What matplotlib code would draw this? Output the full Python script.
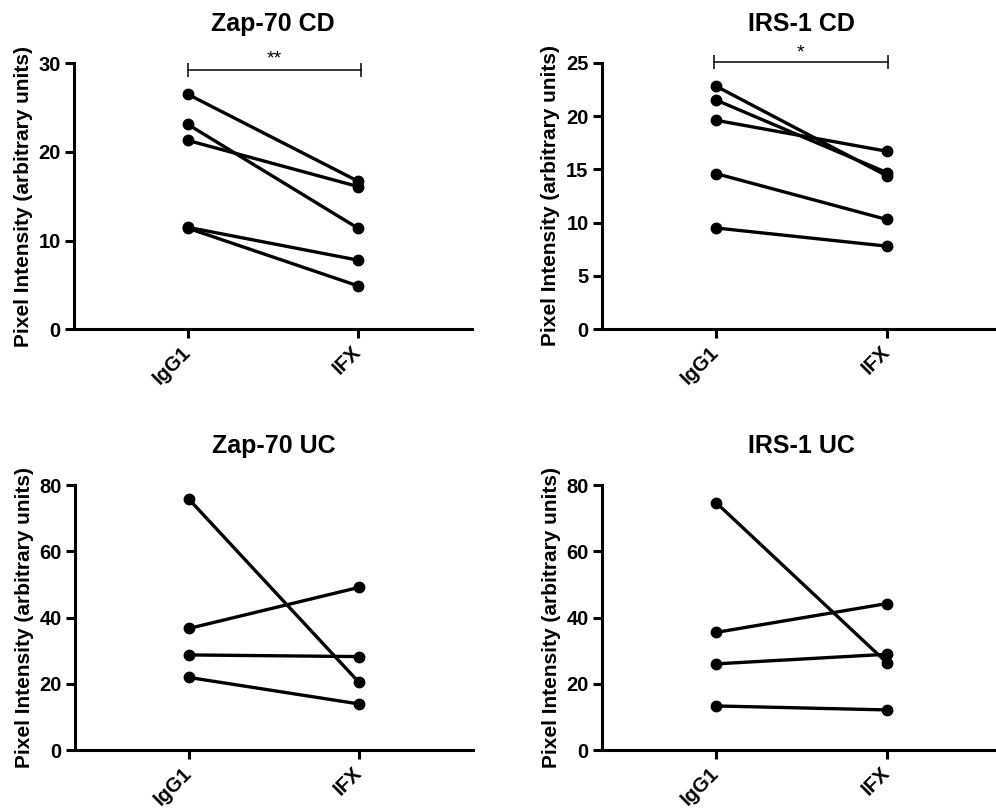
import matplotlib
matplotlib.use("Agg")
import matplotlib.pyplot as plt

plt.rcParams['font.family'] = ['Liberation Sans', 'DejaVu Sans']
plt.rcParams['font.weight'] = 'bold'

# Paired measurements per donor: IgG1 control vs IFX treatment
groups = ["IgG1", "IFX"]

zap_cd_igg1 = [26.5, 23.1, 21.3, 11.5, 11.4]
zap_cd_ifx = [16.7, 11.4, 16.1, 7.8, 4.9]

irs_cd_igg1 = [22.8, 21.5, 19.6, 14.6, 9.5]
irs_cd_ifx = [14.4, 14.7, 16.7, 10.3, 7.8]

zap_uc_igg1 = [75.7, 36.7, 28.7, 21.9]
zap_uc_ifx = [20.4, 49.1, 28.2, 13.9]

irs_uc_igg1 = [74.7, 35.5, 26.0, 13.3]
irs_uc_ifx = [26.4, 44.2, 28.9, 12.1]

titles = ["Zap-70 CD", "IRS-1 CD", "Zap-70 UC", "IRS-1 UC"]
y_ticks = [[0, 10, 20, 30], [0, 5, 10, 15, 20, 25],
           [0, 20, 40, 60, 80], [0, 20, 40, 60, 80]]
significance = ["**", "*", None, None]
bracket_y = [29.25, 25.1, None, None]
star_y = [30.5, 25.9, None, None]
bracket_x = [(0.0, 1.02), (-0.012, 1.005), None, None]

W, H = 996, 809
fig = plt.figure(figsize=(W / 100, H / 100), dpi=100)

# axes boxes in pixels: left, right, top, bottom
boxes = [(74, 472, 63.3, 329.3),
         (601.7, 1001, 62.7, 329.3),
         (75, 473, 485, 750),
         (601.7, 1001, 485, 750)]

data = [(zap_cd_igg1, zap_cd_ifx), (irs_cd_igg1, irs_cd_ifx),
        (zap_uc_igg1, zap_uc_ifx), (irs_uc_igg1, irs_uc_ifx)]

for i, (l, r, t, b) in enumerate(boxes):
    ax = fig.add_axes([l / W, 1 - b / H, (r - l) / W, (b - t) / H])
    before, after = data[i]
    for y0, y1 in zip(before, after):
        ax.plot([0, 1], [y0, y1], color='black', lw=2.4, marker='o',
                markersize=7.5, clip_on=False, zorder=3)
    ax.set_xlim(-0.67, 1.67)
    ax.set_ylim(0, y_ticks[i][-1])
    ax.set_yticks(y_ticks[i])
    ax.set_xticks([0, 1])
    ax.set_xticklabels(groups, rotation=45, ha='right', va='center',
                       rotation_mode='anchor')
    for s in ['top', 'right']:
        ax.spines[s].set_visible(False)
    for s in ['left', 'bottom']:
        ax.spines[s].set_linewidth(2.2)
    ax.tick_params(axis='both', direction='out', length=6.5, width=2.2,
                   labelsize=14.5, pad=3)
    ax.tick_params(axis='x', pad=8)
    for lab in ax.get_xticklabels() + ax.get_yticklabels():
        lab.set_fontweight('bold')
    ax.set_ylabel("Pixel Intensity (arbitrary units)", fontsize=15,
                  fontweight='bold', labelpad=4)
    ax.set_title(titles[i], fontsize=18, fontweight='bold', pad=23)

    if significance[i]:
        x0, x1 = bracket_x[i]
        yb = bracket_y[i]
        ax.plot([x0, x1], [yb, yb], color='black', lw=1.1, clip_on=False,
                marker='|', markersize=9.5, mew=1.1)
        ax.text((x0 + x1) / 2, star_y[i], significance[i], ha='center',
                va='center', fontsize=14, fontweight='normal', clip_on=False)

fig.savefig("out.png", dpi=100)
